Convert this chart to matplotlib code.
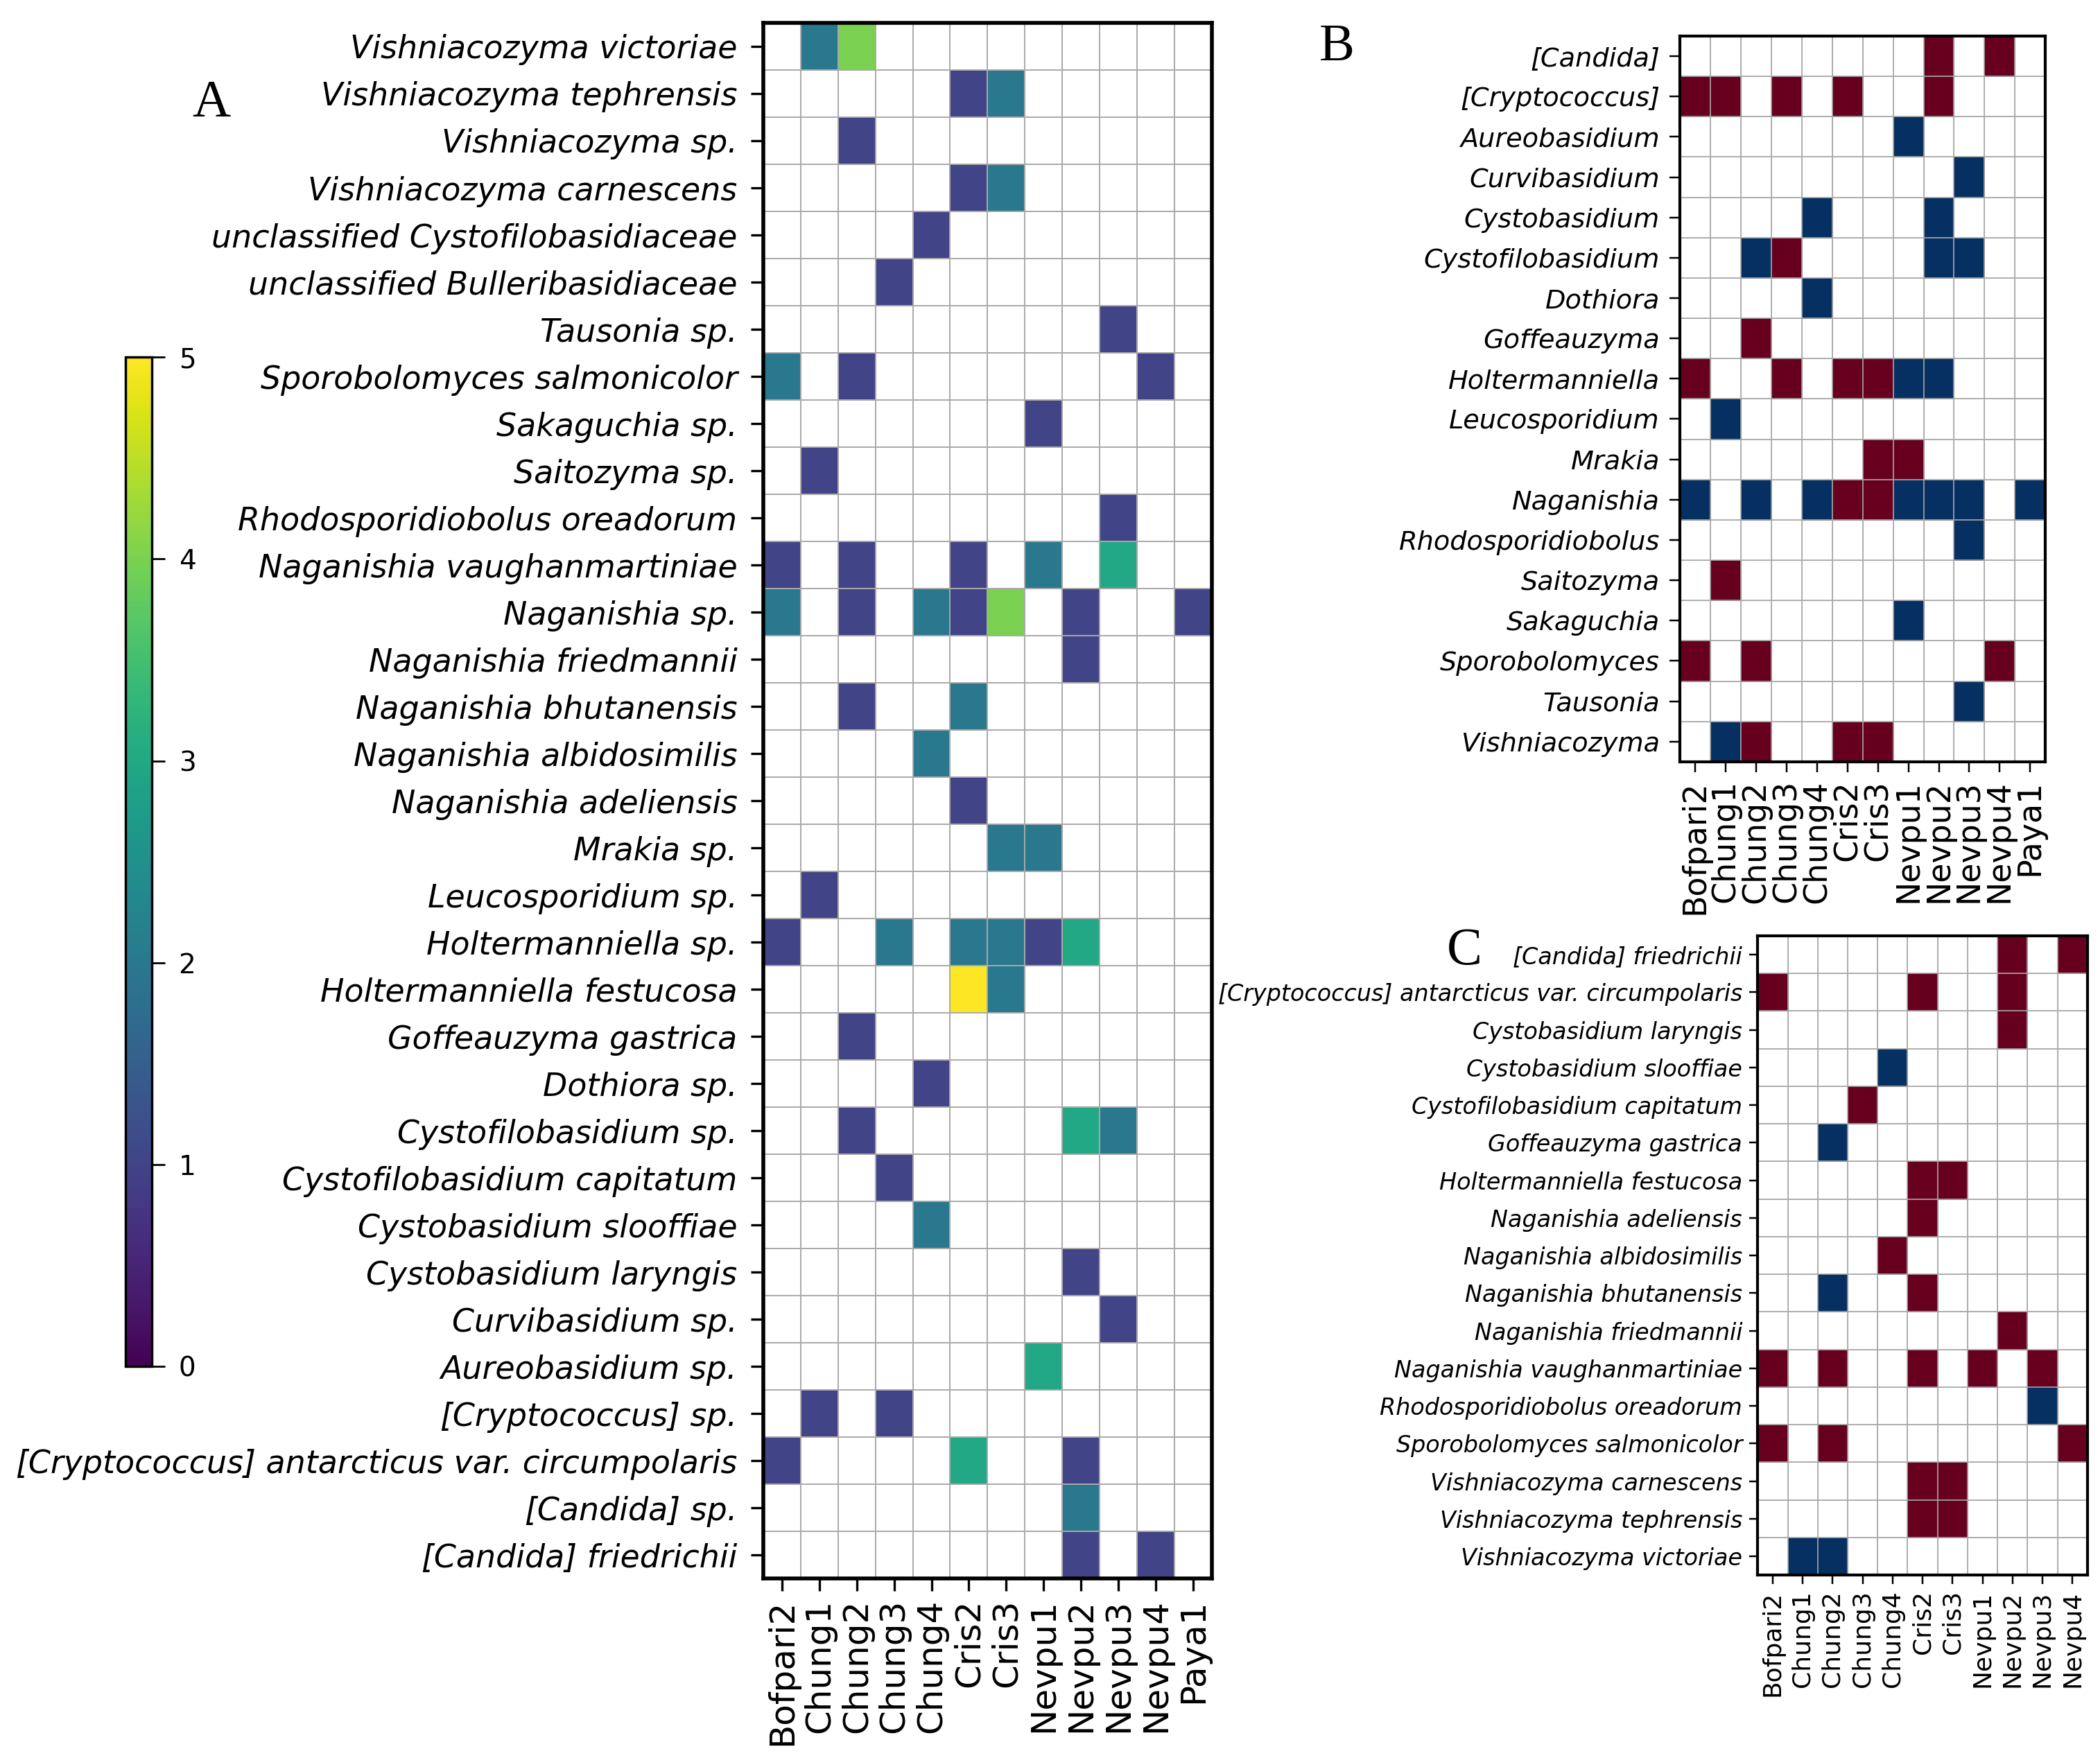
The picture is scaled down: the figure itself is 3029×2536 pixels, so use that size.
import numpy as np
import matplotlib
matplotlib.use("Agg")
import matplotlib.pyplot as plt

# ---------------- data ----------------
samples_A = ["Bofpari2", "Chung1", "Chung2", "Chung3", "Chung4", "Cris2", "Cris3",
             "Nevpu1", "Nevpu2", "Nevpu3", "Nevpu4", "Paya1"]
taxa_A = ["Vishniacozyma victoriae", "Vishniacozyma tephrensis", "Vishniacozyma sp.",
          "Vishniacozyma carnescens", "unclassified Cystofilobasidiaceae",
          "unclassified Bulleribasidiaceae", "Tausonia sp.", "Sporobolomyces salmonicolor",
          "Sakaguchia sp.", "Saitozyma sp.", "Rhodosporidiobolus oreadorum",
          "Naganishia vaughanmartiniae", "Naganishia sp.", "Naganishia friedmannii",
          "Naganishia bhutanensis", "Naganishia albidosimilis", "Naganishia adeliensis",
          "Mrakia sp.", "Leucosporidium sp.", "Holtermanniella sp.",
          "Holtermanniella festucosa", "Goffeauzyma gastrica", "Dothiora sp.",
          "Cystofilobasidium sp.", "Cystofilobasidium capitatum", "Cystobasidium slooffiae",
          "Cystobasidium laryngis", "Curvibasidium sp.", "Aureobasidium sp.",
          "[Cryptococcus] sp.", "[Cryptococcus] antarcticus var. circumpolaris",
          "[Candida] sp.", "[Candida] friedrichii"]
counts_A = [
    [0, 2, 4, 0, 0, 0, 0, 0, 0, 0, 0, 0],
    [0, 0, 0, 0, 0, 1, 2, 0, 0, 0, 0, 0],
    [0, 0, 1, 0, 0, 0, 0, 0, 0, 0, 0, 0],
    [0, 0, 0, 0, 0, 1, 2, 0, 0, 0, 0, 0],
    [0, 0, 0, 0, 1, 0, 0, 0, 0, 0, 0, 0],
    [0, 0, 0, 1, 0, 0, 0, 0, 0, 0, 0, 0],
    [0, 0, 0, 0, 0, 0, 0, 0, 0, 1, 0, 0],
    [2, 0, 1, 0, 0, 0, 0, 0, 0, 0, 1, 0],
    [0, 0, 0, 0, 0, 0, 0, 1, 0, 0, 0, 0],
    [0, 1, 0, 0, 0, 0, 0, 0, 0, 0, 0, 0],
    [0, 0, 0, 0, 0, 0, 0, 0, 0, 1, 0, 0],
    [1, 0, 1, 0, 0, 1, 0, 2, 0, 3, 0, 0],
    [2, 0, 1, 0, 2, 1, 4, 0, 1, 0, 0, 1],
    [0, 0, 0, 0, 0, 0, 0, 0, 1, 0, 0, 0],
    [0, 0, 1, 0, 0, 2, 0, 0, 0, 0, 0, 0],
    [0, 0, 0, 0, 2, 0, 0, 0, 0, 0, 0, 0],
    [0, 0, 0, 0, 0, 1, 0, 0, 0, 0, 0, 0],
    [0, 0, 0, 0, 0, 0, 2, 2, 0, 0, 0, 0],
    [0, 1, 0, 0, 0, 0, 0, 0, 0, 0, 0, 0],
    [1, 0, 0, 2, 0, 2, 2, 1, 3, 0, 0, 0],
    [0, 0, 0, 0, 0, 5, 2, 0, 0, 0, 0, 0],
    [0, 0, 1, 0, 0, 0, 0, 0, 0, 0, 0, 0],
    [0, 0, 0, 0, 1, 0, 0, 0, 0, 0, 0, 0],
    [0, 0, 1, 0, 0, 0, 0, 0, 3, 2, 0, 0],
    [0, 0, 0, 1, 0, 0, 0, 0, 0, 0, 0, 0],
    [0, 0, 0, 0, 2, 0, 0, 0, 0, 0, 0, 0],
    [0, 0, 0, 0, 0, 0, 0, 0, 1, 0, 0, 0],
    [0, 0, 0, 0, 0, 0, 0, 0, 0, 1, 0, 0],
    [0, 0, 0, 0, 0, 0, 0, 3, 0, 0, 0, 0],
    [0, 1, 0, 1, 0, 0, 0, 0, 0, 0, 0, 0],
    [1, 0, 0, 0, 0, 3, 0, 0, 1, 0, 0, 0],
    [0, 0, 0, 0, 0, 0, 0, 0, 2, 0, 0, 0],
    [0, 0, 0, 0, 0, 0, 0, 0, 1, 0, 1, 0],
]
cbar_ticks = [0, 1, 2, 3, 4, 5]

samples_B = samples_A
taxa_B = ["[Candida]", "[Cryptococcus]", "Aureobasidium", "Curvibasidium", "Cystobasidium",
          "Cystofilobasidium", "Dothiora", "Goffeauzyma", "Holtermanniella", "Leucosporidium",
          "Mrakia", "Naganishia", "Rhodosporidiobolus", "Saitozyma", "Sakaguchia",
          "Sporobolomyces", "Tausonia", "Vishniacozyma"]
# +1 = red, -1 = blue, 0 = empty
signs_B = [
    [0, 0, 0, 0, 0, 0, 0, 0, 1, 0, 1, 0],
    [1, 1, 0, 1, 0, 1, 0, 0, 1, 0, 0, 0],
    [0, 0, 0, 0, 0, 0, 0, -1, 0, 0, 0, 0],
    [0, 0, 0, 0, 0, 0, 0, 0, 0, -1, 0, 0],
    [0, 0, 0, 0, -1, 0, 0, 0, -1, 0, 0, 0],
    [0, 0, -1, 1, 0, 0, 0, 0, -1, -1, 0, 0],
    [0, 0, 0, 0, -1, 0, 0, 0, 0, 0, 0, 0],
    [0, 0, 1, 0, 0, 0, 0, 0, 0, 0, 0, 0],
    [1, 0, 0, 1, 0, 1, 1, -1, -1, 0, 0, 0],
    [0, -1, 0, 0, 0, 0, 0, 0, 0, 0, 0, 0],
    [0, 0, 0, 0, 0, 0, 1, 1, 0, 0, 0, 0],
    [-1, 0, -1, 0, -1, 1, 1, -1, -1, -1, 0, -1],
    [0, 0, 0, 0, 0, 0, 0, 0, 0, -1, 0, 0],
    [0, 1, 0, 0, 0, 0, 0, 0, 0, 0, 0, 0],
    [0, 0, 0, 0, 0, 0, 0, -1, 0, 0, 0, 0],
    [1, 0, 1, 0, 0, 0, 0, 0, 0, 0, 1, 0],
    [0, 0, 0, 0, 0, 0, 0, 0, 0, -1, 0, 0],
    [0, -1, 1, 0, 0, 1, 1, 0, 0, 0, 0, 0],
]

samples_C = ["Bofpari2", "Chung1", "Chung2", "Chung3", "Chung4", "Cris2", "Cris3",
             "Nevpu1", "Nevpu2", "Nevpu3", "Nevpu4"]
taxa_C = ["[Candida] friedrichii", "[Cryptococcus] antarcticus var. circumpolaris",
          "Cystobasidium laryngis", "Cystobasidium slooffiae", "Cystofilobasidium capitatum",
          "Goffeauzyma gastrica", "Holtermanniella festucosa", "Naganishia adeliensis",
          "Naganishia albidosimilis", "Naganishia bhutanensis", "Naganishia friedmannii",
          "Naganishia vaughanmartiniae", "Rhodosporidiobolus oreadorum",
          "Sporobolomyces salmonicolor", "Vishniacozyma carnescens",
          "Vishniacozyma tephrensis", "Vishniacozyma victoriae"]
signs_C = [
    [0, 0, 0, 0, 0, 0, 0, 0, 1, 0, 1],
    [1, 0, 0, 0, 0, 1, 0, 0, 1, 0, 0],
    [0, 0, 0, 0, 0, 0, 0, 0, 1, 0, 0],
    [0, 0, 0, 0, -1, 0, 0, 0, 0, 0, 0],
    [0, 0, 0, 1, 0, 0, 0, 0, 0, 0, 0],
    [0, 0, -1, 0, 0, 0, 0, 0, 0, 0, 0],
    [0, 0, 0, 0, 0, 1, 1, 0, 0, 0, 0],
    [0, 0, 0, 0, 0, 1, 0, 0, 0, 0, 0],
    [0, 0, 0, 0, 1, 0, 0, 0, 0, 0, 0],
    [0, 0, -1, 0, 0, 1, 0, 0, 0, 0, 0],
    [0, 0, 0, 0, 0, 0, 0, 0, 1, 0, 0],
    [1, 0, 1, 0, 0, 1, 0, 1, 0, 1, 0],
    [0, 0, 0, 0, 0, 0, 0, 0, 0, -1, 0],
    [1, 0, 1, 0, 0, 0, 0, 0, 0, 0, 1],
    [0, 0, 0, 0, 0, 1, 1, 0, 0, 0, 0],
    [0, 0, 0, 0, 0, 1, 1, 0, 0, 0, 0],
    [0, -1, -1, 0, 0, 0, 0, 0, 0, 0, 0],
]

# ---------------- figure ----------------
plt.rcParams["font.family"] = ["DejaVu Sans"]
fig = plt.figure(figsize=(30.29, 25.36), dpi=100)


def heat(ax, mat, rows, cols, cmap, vmin, vmax, ysize, xsize, spine_w,
         tick_len, ypad, xpad, grid_lw):
    M = np.ma.masked_equal(np.array(mat, dtype=float), 0)
    nr, nc = M.shape
    ax.set_facecolor("white")
    mesh = ax.pcolormesh(np.arange(nc + 1), np.arange(nr + 1), M, cmap=cmap,
                         vmin=vmin, vmax=vmax, edgecolors=(0, 0, 0, 0.25), linewidth=0.6)
    ax.set_xlim(0, nc)
    ax.set_ylim(nr, 0)
    ax.set_xticks(np.arange(nc) + 0.5)
    ax.set_xticklabels(cols, rotation=90, fontsize=xsize)
    ax.set_yticks(np.arange(nr) + 0.5)
    ax.set_yticklabels(rows, fontsize=ysize, style="italic")
    ax.set_xticks(np.arange(nc + 1), minor=True)
    ax.set_yticks(np.arange(nr + 1), minor=True)
    ax.grid(which="minor", color="#aaaaaa", linewidth=grid_lw, zorder=0)
    ax.set_axisbelow(False)
    ax.tick_params(which="minor", length=0)
    ax.tick_params(axis="y", which="major", length=tick_len, width=spine_w * 0.6,
                   pad=ypad)
    ax.tick_params(axis="x", which="major", length=tick_len, width=spine_w * 0.6,
                   pad=xpad)
    for s in ax.spines.values():
        s.set_linewidth(spine_w)
        s.set_zorder(5)
    return mesh


axA = fig.add_axes([0.3635, 0.102, 0.2135, 0.885])
meshA = heat(axA, counts_A, taxa_A, samples_A, "viridis", 0, 5,
             ysize=33, xsize=36, spine_w=4.0, tick_len=13, ypad=14, xpad=8, grid_lw=1.4)

cax = fig.add_axes([0.0597, 0.2228, 0.0125, 0.574])
cb = fig.colorbar(meshA, cax=cax, ticks=cbar_ticks)
cb.ax.tick_params(labelsize=28, length=14, width=2, pad=14)
cb.outline.set_linewidth(2.5)

cmap_div = "RdBu_r"
axB = fig.add_axes([0.800, 0.5667, 0.174, 0.4128])
heat(axB, signs_B, taxa_B, samples_B, cmap_div, -1, 1,
     ysize=27.5, xsize=33, spine_w=3.0, tick_len=11, ypad=10, xpad=8, grid_lw=1.2)

axC = fig.add_axes([0.837, 0.104, 0.157, 0.3637])
heat(axC, signs_C, taxa_C, samples_C, cmap_div, -1, 1,
     ysize=24, xsize=26, spine_w=3.0, tick_len=9, ypad=7, xpad=7, grid_lw=1.2)

serif = ["Liberation Serif", "DejaVu Serif"]
fig.text(0.1007, 0.941, "A", fontsize=55, family=serif, ha="center", va="center")
fig.text(0.6365, 0.973, "B", fontsize=55, family=serif, ha="center", va="center")
fig.text(0.6975, 0.4586, "C", fontsize=55, family=serif, ha="center", va="center")

fig.savefig("out.png", dpi=100, facecolor="white")
